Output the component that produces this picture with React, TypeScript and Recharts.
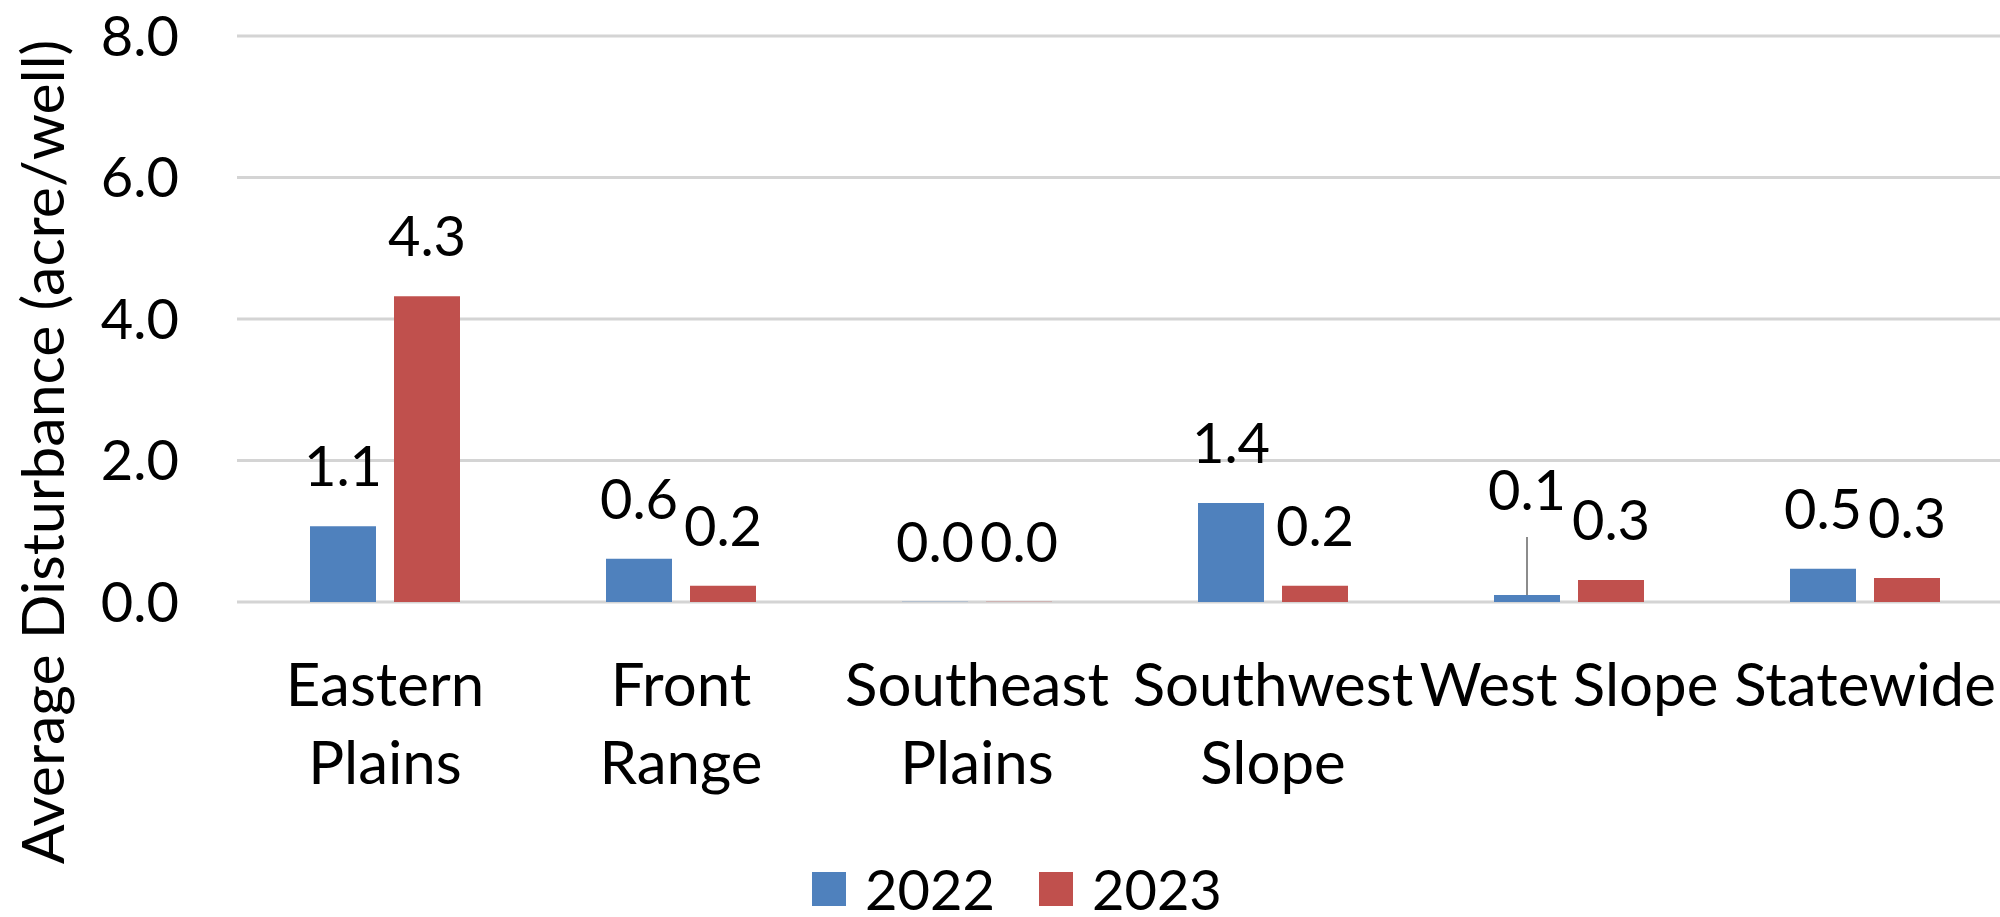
import { BarChart, Bar, XAxis, YAxis, CartesianGrid, Legend, Label } from 'recharts'

const categories = ['Eastern Plains', 'Front Range', 'Southeast Plains', 'Southwest Slope', 'West Slope', 'Statewide']
const tickLines = [['Eastern', 'Plains'], ['Front', 'Range'], ['Southeast', 'Plains'], ['Southwest', 'Slope'], ['West Slope'], ['Statewide']]
const values2022 = [1.07, 0.61, 0, 1.4, 0.1, 0.47]
const values2023 = [4.32, 0.23, 0, 0.23, 0.31, 0.34]
const yTicks = [0, 2, 4, 6, 8]
const seriesNames = ['2022', '2023']
// label that was dragged up in the original, with a leader line
const movedLabel = 'West Slope'

const BLUE = '#4f81bd'
const RED = '#c0504d'
const FONT = 'Lato, sans-serif'
const FS = 56 // numbers
const FS_TEXT = 60 // words
const LEGEND_H = 52

const data = categories.map((name, i) => ({
  name,
  y2022: values2022[i],
  y2023: values2023[i],
}))

const fmt = (v: number) => Number(v).toFixed(1)

function CategoryTick(props: any) {
  const { x, y, payload } = props
  const lines = tickLines[payload.index] || [payload.value]
  return (
    <text x={x} y={y} textAnchor="middle" fontFamily={FONT} fontSize={FS_TEXT} fill="#000">
      {lines.map((l, i) => (
        <tspan key={i} x={x} y={y + 104 + i * 78}>{l}</tspan>
      ))}
    </text>
  )
}

function makeLabel(moveable: boolean) {
  return (props: any) => {
    const { x, y, width, value, index } = props
    const cx = x + width / 2
    const name = props.payload?.name ?? categories[index]
    if (moveable && name === movedLabel) {
      return (
        <g>
          <line x1={cx} x2={cx} y1={y - 58} y2={y} stroke="#8c8c8c" strokeWidth={2} />
          <text x={cx} y={y - 85} textAnchor="middle" fontFamily={FONT} fontSize={FS} fill="#000">{fmt(value)}</text>
        </g>
      )
    }
    return (
      <text x={cx} y={y - 40} textAnchor="middle" fontFamily={FONT} fontSize={FS} fill="#000">{fmt(value)}</text>
    )
  }
}

function AxisTitle() {
  return (
    <text x={64} y={452} transform="rotate(-90 64 452)" textAnchor="middle" fontFamily={FONT} fontSize={59} fill="#000">
      Average Disturbance (acre/well)
    </text>
  )
}

function LegendContent(props: any) {
  const items = props.payload || []
  return (
    <div style={{ display: 'flex', alignItems: 'center', height: LEGEND_H, fontFamily: FONT, fontSize: FS, color: '#000', lineHeight: 0.9 }}>
      {items.map((it: any, i: number) => (
        <div key={it.value} style={{ display: 'flex', alignItems: 'center', marginRight: i === 0 ? 44 : 0 }}>
          <span style={{ display: 'inline-block', width: 34, height: 34, background: it.color, marginRight: 19 }} />
          <span>{it.value}</span>
        </div>
      ))}
    </div>
  )
}

export default function App() {
  return (
    <div style={{ width: 2000, height: 917, overflow: 'hidden', position: 'relative', background: '#fff' }}>
      <style>{'body{margin:0;overflow:hidden}'}</style>
      <BarChart
        width={2013}
        height={917}
        data={data}
        margin={{ top: 36, right: 0, bottom: 0, left: 0 }}
        barSize={66}
        barGap={18}
      >
        <CartesianGrid vertical={false} stroke="#d4d4d4" strokeWidth={3} />
        <XAxis
          dataKey="name"
          axisLine={false}
          tickLine={false}
          tickSize={0}
          tickMargin={0}
          interval={0}
          height={315 - LEGEND_H}
          tick={<CategoryTick />}
        />
        <YAxis
          domain={[0, 8]}
          ticks={yTicks}
          tickFormatter={fmt}
          axisLine={false}
          tickLine={false}
          tickSize={0}
          tickMargin={58}
          width={237}
          tick={{ fontSize: FS, fill: '#000', fontFamily: FONT }}
        >
          <Label content={<AxisTitle />} />
        </YAxis>
        <Legend
          verticalAlign="bottom"
          content={<LegendContent />}
          wrapperStyle={{ left: 812, bottom: 2, width: 'auto' }}
        />
        <Bar dataKey="y2022" name={seriesNames[0]} fill={BLUE} minPointSize={0.3} isAnimationActive={false} label={makeLabel(true)} />
        <Bar dataKey="y2023" name={seriesNames[1]} fill={RED} minPointSize={0.3} isAnimationActive={false} label={makeLabel(false)} />
      </BarChart>
    </div>
  )
}
